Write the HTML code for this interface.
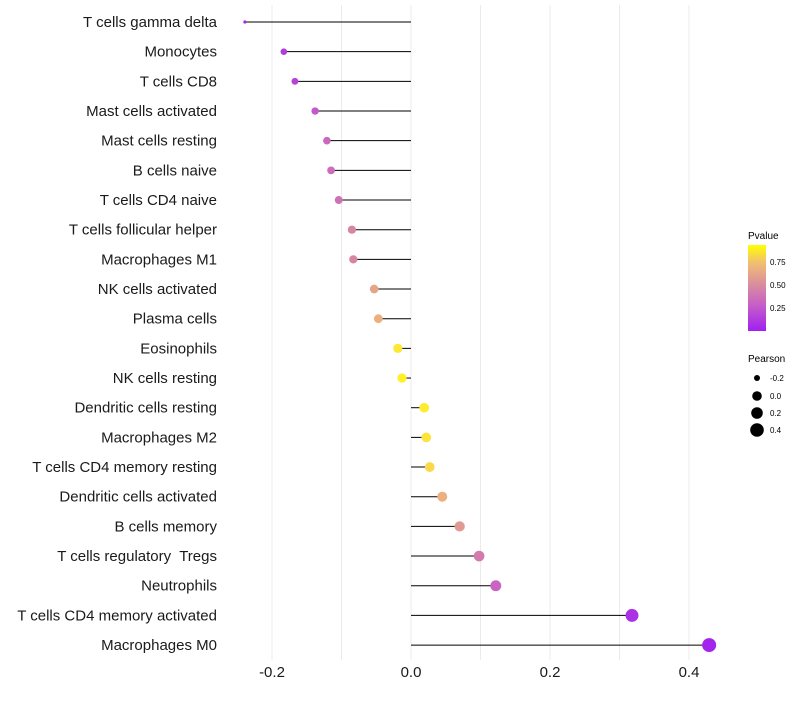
<!DOCTYPE html>
<html><head><meta charset="utf-8"><style>
body{margin:0;background:#fff;font-family:"Liberation Sans",sans-serif}
svg text{font-family:"Liberation Sans",sans-serif;white-space:pre}
</style></head><body>
<svg id="chart" width="800" height="700">
<defs><linearGradient id="pg" x1="0" y1="1" x2="0" y2="0">
<stop offset="0" stop-color="#a020f0"/><stop offset="0.3" stop-color="#c65ec8"/><stop offset="0.55" stop-color="#db8f9c"/><stop offset="0.8" stop-color="#f2c070"/><stop offset="1" stop-color="#ffff00"/></linearGradient></defs>
<g id="grid"></g>
<g id="marks"></g>
<g id="ylab"></g>
<g id="xlab"></g>
<g>
<text x="748" y="239" font-size="10" fill="#000">Pvalue</text>
<rect x="748" y="245" width="18" height="86" fill="url(#pg)"/>
<text x="770" y="265" font-size="8">0.75</text>
<text x="770" y="288" font-size="8">0.50</text>
<text x="770" y="311" font-size="8">0.25</text>
</g>
<g>
<text x="748" y="362" font-size="10">Pearson</text>
<circle cx="757" cy="378" r="3"/>
<circle cx="757" cy="396" r="4.8"/>
<circle cx="757" cy="413" r="5.8"/>
<circle cx="757" cy="430" r="6.8"/>
<text x="770" y="381" font-size="8">-0.2</text>
<text x="770" y="399" font-size="8">0.0</text>
<text x="770" y="416" font-size="8">0.2</text>
<text x="770" y="433" font-size="8">0.4</text>
</g>
</svg>
<script>
const categories=["T cells gamma delta","Monocytes","T cells CD8","Mast cells activated","Mast cells resting","B cells naive","T cells CD4 naive","T cells follicular helper","Macrophages M1","NK cells activated","Plasma cells","Eosinophils","NK cells resting","Dendritic cells resting","Macrophages M2","T cells CD4 memory resting","Dendritic cells activated","B cells memory","T cells regulatory  Tregs","Neutrophils","T cells CD4 memory activated","Macrophages M0"];
const pearson=[-0.239,-0.183,-0.167,-0.138,-0.121,-0.115,-0.104,-0.085,-0.083,-0.053,-0.047,-0.019,-0.013,0.019,0.022,0.027,0.045,0.070,0.098,0.122,0.318,0.429];
const pvalue=[0.04,0.14,0.17,0.28,0.35,0.37,0.40,0.50,0.50,0.66,0.72,0.90,0.92,0.91,0.89,0.86,0.72,0.60,0.45,0.33,0.08,0.02];
const xTicks=[-0.2,0.0,0.2,0.4];
const xTickLabels=["-0.2","0.0","0.2","0.4"];
const X=v=>411+v*695;
const Y=i=>22+i*29.67;
const NS="http://www.w3.org/2000/svg";
function mk(t,a,p){const e=document.createElementNS(NS,t);for(const k in a)e.setAttribute(k,a[k]);p.appendChild(e);return e;}
const stops=[[0,[160,32,240]],[0.3,[198,94,200]],[0.55,[219,143,156]],[0.8,[242,192,112]],[0.92,[255,240,40]],[1,[255,255,0]]];
function col(p){for(let i=1;i<stops.length;i++){if(p<=stops[i][0]){const a=stops[i-1],b=stops[i],t=(p-a[0])/(b[0]-a[0]);return "rgb("+a[1].map((c,j)=>Math.round(c+(b[1][j]-c)*t)).join(",")+")";}}return "rgb(255,255,0)";}
const grid=document.getElementById('grid');
for(let k=-2;k<=4;k++){
const g=mk('line',{x1:X(k/10),x2:X(k/10),y1:5,y2:660,stroke:'#ebebeb','stroke-width':1},grid);


}
const marks=document.getElementById('marks'),yl=document.getElementById('ylab'),xl=document.getElementById('xlab');
const pmin=Math.min(...pearson);
categories.forEach((c,i)=>{
const l=mk('line',{x1:X(0),x2:X(pearson[i]),y1:Y(i),y2:Y(i),stroke:'#000','stroke-width':1},marks);


const dp=pearson[i]-pmin;
const r=dp<0.01?1.6:Math.sqrt(7.4+62*dp);
const d=mk('circle',{cx:X(pearson[i]),cy:Y(i),r:r,fill:col(pvalue[i])},marks);


const t=mk('text',{x:217,y:Y(i)+5,'text-anchor':'end','font-size':15,fill:'#1a1a1a'},yl);
t.textContent=c;


});
xTicks.forEach((v,i)=>{
const t=mk('text',{x:X(v),y:677,'text-anchor':'middle','font-size':15,fill:'#1a1a1a'},xl);
t.textContent=xTickLabels[i];


});
</script>
</body></html>
